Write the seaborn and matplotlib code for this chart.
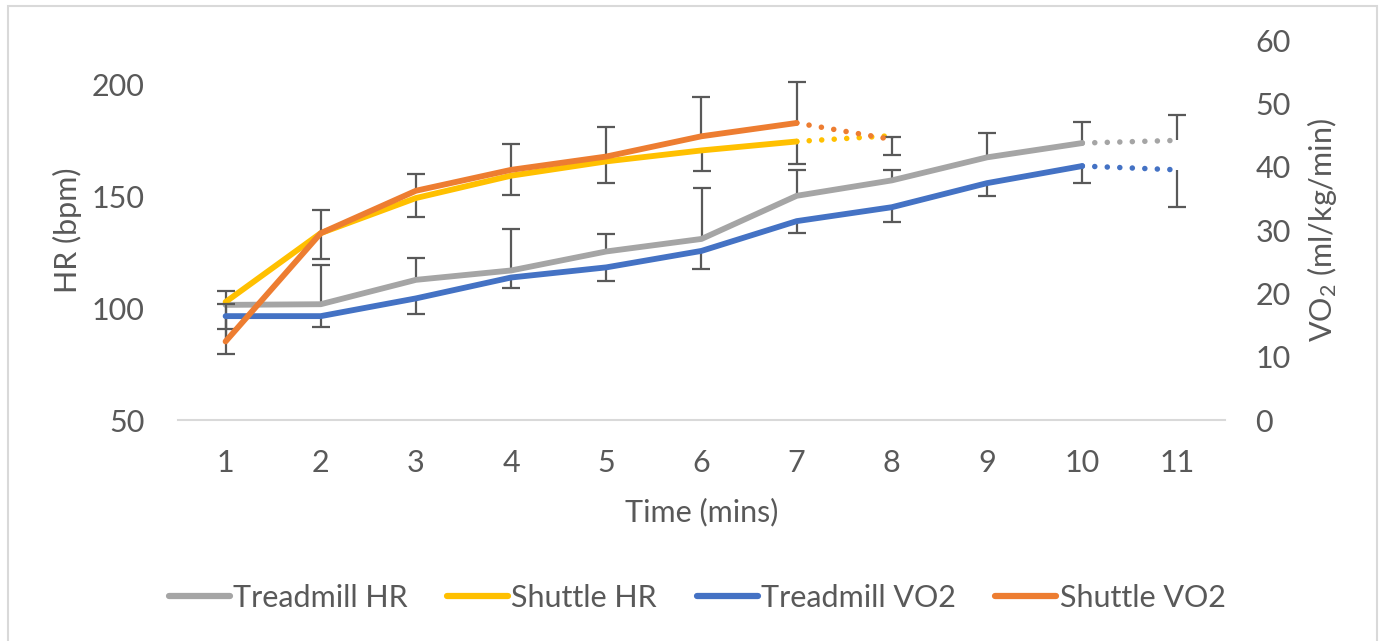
import matplotlib
matplotlib.use("Agg")
import matplotlib.pyplot as plt
import seaborn as sns
import numpy as np
import pandas as pd
from matplotlib.lines import Line2D

# ---- data ----
minutes = [1, 2, 3, 4, 5, 6, 7, 8, 9, 10, 11]
treadmill_hr = [101.5, 101.8, 112.7, 116.9, 125.4, 131.0, 150.3, 157.2, 167.5, 173.9, 175.1]
treadmill_hr_err_plus = [6.1, 17.5, 9.7, 18.5, 7.9, 23.0, 11.6, 4.8, 10.9, 9.4, 11.5]
shuttle_minutes = [1, 2, 3, 4, 5, 6, 7, 8]
shuttle_hr = [102.8, 133.6, 149.3, 159.3, 165.7, 170.6, 174.6, 177.2]
shuttle_hr_err_minus = [23.3, 11.5, 8.7, 8.5, 9.7, 9.0, 10.0, 8.5]
treadmill_vo2 = [16.4, 16.4, 19.2, 22.5, 24.1, 26.7, 31.4, 33.6, 37.4, 40.1, 39.5]
treadmill_vo2_err_minus = [2.1, 1.7, 2.5, 1.7, 2.2, 2.9, 1.9, 2.4, 2.1, 2.6, 5.9]
shuttle_vo2 = [12.4, 29.5, 36.2, 39.5, 41.6, 44.8, 46.9, 44.3]
shuttle_vo2_err_plus = [5.9, 3.6, 2.7, 4.1, 4.7, 6.2, 6.5, 0.4]

x_ticks = [1, 2, 3, 4, 5, 6, 7, 8, 9, 10, 11]
hr_ticks = [50, 100, 150, 200]
vo2_ticks = [0, 10, 20, 30, 40, 50, 60]

series_names = ["Treadmill HR", "Shuttle HR", "Treadmill VO2", "Shuttle VO2"]
colors = {"Treadmill HR": "#A5A5A5", "Shuttle HR": "#FFC000",
          "Treadmill VO2": "#4472C4", "Shuttle VO2": "#ED7D31"}
TXT = "#595959"

sns.set_theme(style="white")
plt.rcParams["font.family"] = ["Lato", "DejaVu Sans"]
plt.rcParams["mathtext.fontset"] = "custom"
plt.rcParams["mathtext.rm"] = "Lato"
plt.rcParams["mathtext.default"] = "regular"

FS = 22
LW = 4.2

fig = plt.figure(figsize=(13.82, 6.41), dpi=100)
W, H = 1382, 641
ax = fig.add_axes([178 / W, 1 - 420 / H, 1047 / W, 380 / H])
ax2 = ax.twinx()

# outer chart border
fig.add_artist(plt.Rectangle((8 / W, -0.1), (1377 - 8) / W, 1.1 - 6 / H,
                             transform=fig.transFigure, fill=False,
                             edgecolor="#D9D9D9", linewidth=1.5))

def draw(axis, xs, ys, name, n_solid):
    df = pd.DataFrame({"x": xs, "y": ys})
    sns.lineplot(data=df.iloc[:n_solid], x="x", y="y", ax=axis, color=colors[name],
                 linewidth=LW, solid_capstyle="round", solid_joinstyle="round",
                 legend=False, zorder=3)
    sns.lineplot(data=df.iloc[n_solid - 1:], x="x", y="y", ax=axis, color=colors[name],
                 linewidth=LW * 0.95, linestyle=(0, (0.01, 2.25)), dash_capstyle="round",
                 legend=False, zorder=3)

def ebar(axis, xs, ys, err, sign):
    xs = np.asarray(xs, float)
    ys = np.asarray(ys, float)
    err = np.asarray(err, float)
    ends = ys + sign * err
    lower = np.zeros_like(err) if sign > 0 else err
    upper = err if sign > 0 else np.zeros_like(err)
    axis.errorbar(xs, ys, yerr=[lower, upper], fmt="none", ecolor="#595959",
                  elinewidth=1.6, capsize=0, zorder=2)
    axis.plot(xs, ends, linestyle="none", marker="_", markersize=13,
              markeredgewidth=1.6, color="#595959", zorder=2)

ebar(ax, minutes, treadmill_hr, treadmill_hr_err_plus, +1)
ebar(ax, shuttle_minutes, shuttle_hr, shuttle_hr_err_minus, -1)
draw(ax, minutes, treadmill_hr, "Treadmill HR", 10)
draw(ax, shuttle_minutes, shuttle_hr, "Shuttle HR", 7)

ebar(ax2, minutes, treadmill_vo2, treadmill_vo2_err_minus, -1)
ebar(ax2, shuttle_minutes, shuttle_vo2, shuttle_vo2_err_plus, +1)
draw(ax2, minutes, treadmill_vo2, "Treadmill VO2", 10)
draw(ax2, shuttle_minutes, shuttle_vo2, "Shuttle VO2", 7)

ax.set_xlim(0.5, 11.5)
ax.set_ylim(50, 220)
ax2.set_ylim(0, 60)
ax.set_xticks(x_ticks)
ax.set_xticklabels([str(t) for t in x_ticks])
ax.set_yticks(hr_ticks)
ax2.set_yticks(vo2_ticks)

for a in (ax, ax2):
    for s in a.spines.values():
        s.set_visible(False)
    a.grid(False)
    a.set_facecolor("none")
ax.spines["bottom"].set_visible(True)
ax.spines["bottom"].set_color("#D9D9D9")
ax.spines["bottom"].set_linewidth(1.5)

ax.tick_params(axis="x", length=0, pad=21, labelsize=FS, labelcolor=TXT)
ax.tick_params(axis="y", length=0, pad=24, labelsize=FS, labelcolor=TXT)
ax2.tick_params(axis="y", length=0, pad=22, labelsize=FS, labelcolor=TXT)

ax.set_xlabel("Time (mins)", fontsize=FS, color=TXT)
ax.xaxis.set_label_coords(0.5, -0.205)
ax.set_ylabel("HR (bpm)", fontsize=FS, color=TXT, va="center")
ax.yaxis.set_label_coords(-0.106, 0.5)
ax2.set_ylabel("VO$_2$ (ml/kg/min)", fontsize=FS, color=TXT, va="center", rotation=90)
ax2.yaxis.set_label_coords(1.0926, 0.5)

handles = [Line2D([0], [0], color=colors[n], linewidth=4.5, solid_capstyle="round")
           for n in series_names]
fig.legend(handles, series_names, loc="center", bbox_to_anchor=(697 / W, 1 - 598 / H),
           ncol=4, frameon=False, fontsize=FS, labelcolor=TXT, handlelength=2.0,
           handletextpad=0.1, columnspacing=1.3)

fig.savefig("out.png", dpi=100)
